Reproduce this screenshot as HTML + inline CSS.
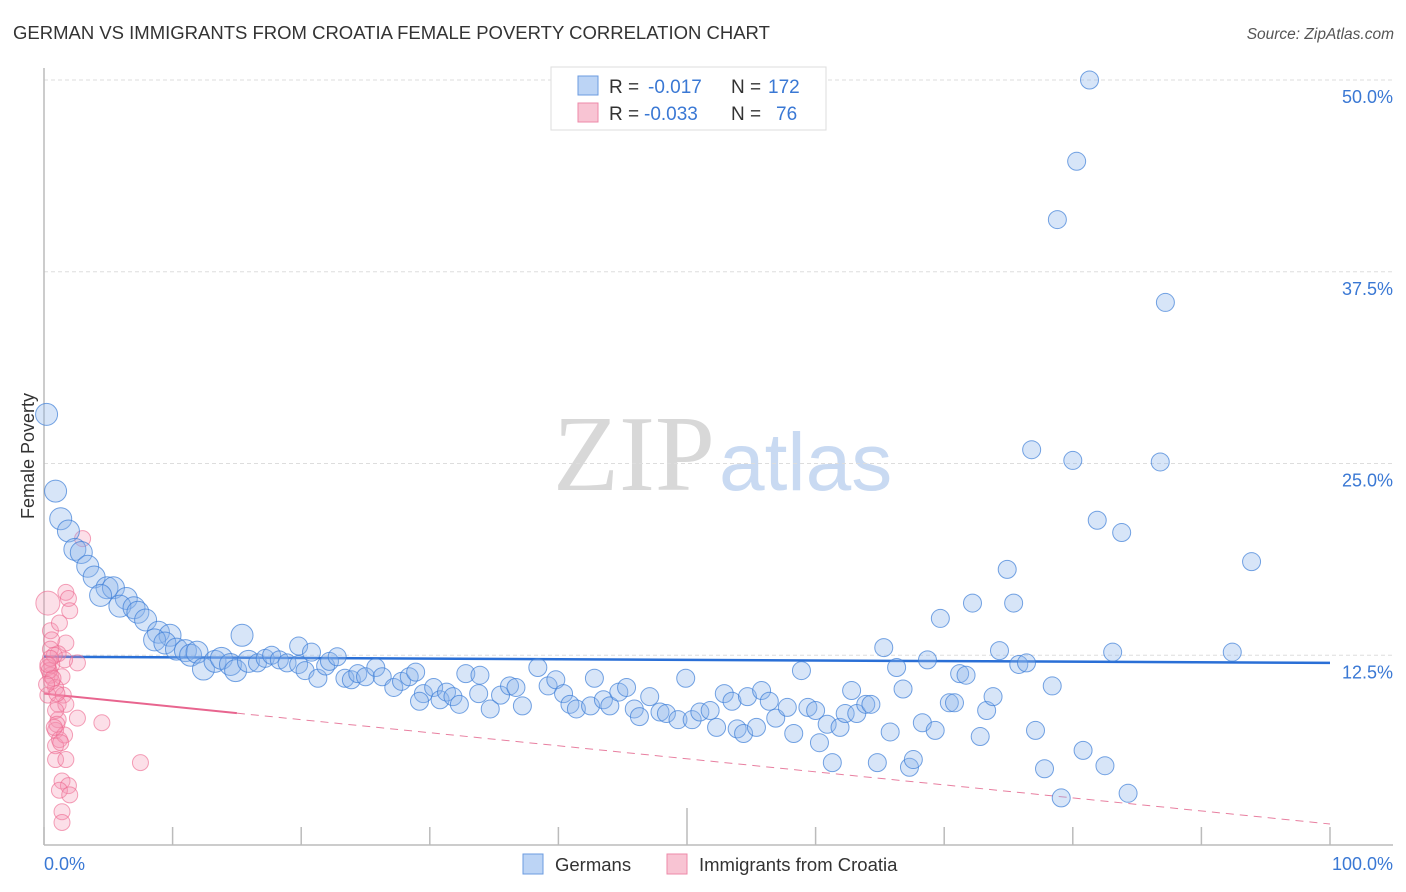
<!DOCTYPE html>
<html><head><meta charset="utf-8">
<style>
body{margin:0;background:#fff;font-family:"Liberation Sans",sans-serif;}
svg{display:block}
</style></head>
<body>
<svg id="chart" width="1406" height="892" xmlns="http://www.w3.org/2000/svg">
<text x="13" y="39" font-size="18.5" fill="#333">GERMAN VS IMMIGRANTS FROM CROATIA FEMALE POVERTY CORRELATION CHART</text>
<text x="1394" y="39" font-size="15.5" fill="#555" font-style="italic" text-anchor="end">Source: ZipAtlas.com</text>
<g>
<text x="553" y="490" font-family="Liberation Serif,serif" font-size="108" fill="#d8d8d8">ZIP</text>
<text x="719" y="490" font-size="82" fill="#c9daf2">atlas</text>
</g>
<g id="grid"></g>
<g id="axes"></g>
<g id="trend"></g>
<g id="pts"></g>
<text transform="translate(34,456) rotate(-90)" font-size="18" fill="#333" text-anchor="middle">Female Poverty</text>
<g>
<rect x="551" y="67" width="275" height="63" fill="#fff" stroke="#ddd"/>
<g>
<rect x="578" y="76" width="20" height="19" fill="#bcd4f5" stroke="#6b9be0"/>
<text x="609" y="93" font-size="19" fill="#333">R = </text><text x="648" y="93" font-size="19" fill="#3a78d4">-0.017</text>
<text x="731" y="93" font-size="19" fill="#333">N = </text><text x="768" y="93" font-size="19" fill="#3a78d4">172</text>
</g>
<g>
<rect x="578" y="103" width="20" height="19" fill="#f8c4d3" stroke="#ee8aa8"/>
<text x="609" y="120" font-size="19" fill="#333">R = </text><text x="644" y="120" font-size="19" fill="#3a78d4">-0.033</text>
<text x="731" y="120" font-size="19" fill="#333">N = </text><text x="776" y="120" font-size="19" fill="#3a78d4">76</text>
</g>
</g>
<g>
<rect x="523" y="854" width="20" height="20" fill="#bcd4f5" stroke="#6b9be0"/>
<text x="555" y="871" font-size="18.5" fill="#333">Germans</text>
<rect x="667" y="854" width="20" height="20" fill="#f8c4d3" stroke="#ee8aa8"/>
<text x="699" y="871" font-size="18.5" fill="#333">Immigrants from Croatia</text>
</g>
</svg>
<script>
const yTicks=[12.5,25,37.5,50];
const yTickLabels=["12.5%","25.0%","37.5%","50.0%"];
const xTicks=[0,10,20,30,40,50,60,70,80,90,100];
const germanX=[81.3,80.3,78.8,87.2,0.2,0.9,1.3,1.9,2.4,2.9,3.4,3.9,4.9,5.4,4.4,6.4,5.9,7.0,7.3,7.9,8.9,9.8,8.6,9.4,10.3,11.0,11.4,11.9,12.4,13.3,13.8,14.5,14.9,15.4,15.9,16.6,17.2,17.7,18.3,18.9,19.8,19.8,20.3,20.8,21.3,21.9,22.2,22.8,23.4,23.9,24.4,25.0,25.8,26.3,27.2,27.8,28.4,28.9,29.5,30.3,29.2,30.8,31.3,31.8,32.3,32.8,33.9,33.8,34.7,35.5,36.2,36.7,37.2,38.4,39.2,39.8,40.4,40.9,41.4,42.5,42.8,43.5,44.0,44.7,45.3,45.9,46.3,47.1,47.9,48.4,49.3,49.9,50.4,51.0,51.8,52.3,52.9,53.5,53.9,54.4,54.7,55.4,55.8,56.4,56.9,57.8,58.3,58.9,59.4,60.0,60.3,60.9,61.3,61.9,62.3,62.8,63.2,63.9,64.3,64.8,65.3,65.8,66.3,66.8,67.3,67.6,68.3,68.7,69.3,69.7,70.4,70.8,71.2,71.7,72.2,72.8,73.3,73.8,74.3,74.9,75.4,75.8,76.4,76.8,77.1,77.8,78.4,79.1,80.0,80.8,81.9,82.5,83.1,83.8,84.3,86.8,92.4,93.9];
const germanY=[50.0,44.7,40.9,35.5,28.2,23.2,21.4,20.6,19.4,19.2,18.3,17.6,16.9,16.9,16.4,16.2,15.7,15.6,15.3,14.8,14.0,13.8,13.5,13.3,12.9,12.8,12.5,12.7,11.6,12.1,12.3,11.9,11.5,13.8,12.1,12.0,12.3,12.5,12.2,12.0,11.9,13.1,11.5,12.7,11.0,11.8,12.1,12.4,11.0,10.9,11.3,11.1,11.7,11.1,10.4,10.8,11.1,11.4,10.0,10.4,9.5,9.6,10.1,9.8,9.3,11.3,11.2,10.0,9.0,9.9,10.5,10.4,9.2,11.7,10.5,10.9,10.0,9.3,9.0,9.2,11.0,9.6,9.2,10.1,10.4,9.0,8.5,9.8,8.8,8.7,8.3,11.0,8.3,8.8,8.9,7.8,10.0,9.5,7.7,7.4,9.8,7.8,10.2,9.5,8.4,9.1,7.4,11.5,9.1,8.9,6.8,8.0,5.5,7.8,8.7,10.2,8.7,9.3,9.3,5.5,13.0,7.5,11.7,10.3,5.2,5.7,8.1,12.2,7.6,14.9,9.4,9.4,11.3,11.2,15.9,7.2,8.9,9.8,12.8,18.1,15.9,11.9,12.0,25.9,7.6,5.1,10.5,3.2,25.2,6.3,21.3,5.3,12.7,20.5,3.5,25.1,12.7,18.6];
const croatiaX=[3.0,1.7,1.9,0.3,2.0,0.5,0.6,1.7,2.6,1.1,1.6,0.6,0.5,1.4,0.9,0.3,1.5,1.1,1.7,2.6,4.5,1.1,0.9,1.2,0.9,0.9,1.7,7.5,1.4,1.9,1.2,2.0,1.4,1.4,0.3,0.6,0.9,1.0,1.6,0.5,0.8,1.2,0.4,0.7,1.0,0.2,0.5,0.3,0.8,1.3];
const croatiaY=[20.1,16.6,16.2,15.9,15.4,14.1,13.5,13.3,12.0,12.6,12.2,11.9,11.2,11.1,10.4,9.9,9.9,9.3,9.3,8.4,8.1,8.3,7.6,7.0,6.6,5.7,5.7,5.5,4.3,4.0,3.7,3.4,2.3,1.6,11.7,10.8,8.9,8.0,7.3,12.9,12.5,14.6,11.5,11.0,10.0,10.6,12.3,11.9,7.8,6.8];
const germanTrend=[12.4,12.0];
const croatiaTrend=[10.0,1.5];
const ns="http://www.w3.org/2000/svg";
const X0=44,X1=1330,YB=847,PX=15.34;
function xs(v){return X0+(X1-X0)*v/100;}
function ys(v){return YB-v*PX;}
function mk(tag,attrs,parent){const e=document.createElementNS(ns,tag);for(const k in attrs)e.setAttribute(k,attrs[k]);document.getElementById(parent).appendChild(e);return e;}
yTicks.forEach((t,i)=>{
 const l=mk('line',{x1:X0,x2:1393,y1:ys(t),y2:ys(t),stroke:'#ddd','stroke-dasharray':'4,3'},'grid');
 
 
 const tx=mk('text',{x:1393,y:ys(t)+23,'font-size':18,fill:'#3a78d4','text-anchor':'end'},'grid');
 tx.textContent=yTickLabels[i];
 
 
});
mk('line',{x1:X0,x2:X0,y1:68,y2:845,stroke:'#bbb','stroke-width':1.5},'axes');
mk('line',{x1:X0,x2:1393,y1:845,y2:845,stroke:'#bbb','stroke-width':1.5},'axes');
xTicks.forEach(t=>{
 const tk=mk('line',{x1:xs(t),x2:xs(t),y1:(t==50?808:827),y2:845,stroke:'#bbb','stroke-width':1.5},'axes');
 
 
});
const xl0=mk('text',{x:44,y:870,'font-size':18,fill:'#3a78d4'},'axes');xl0.textContent='0.0%';


const xl1=mk('text',{x:1393,y:870,'font-size':18,fill:'#3a78d4','text-anchor':'end'},'axes');xl1.textContent='100.0%';


croatiaX.forEach((x,i)=>{
 const c=mk('circle',{cx:xs(x),cy:ys(croatiaY[i]),r:(i==3?12:8),fill:'rgba(244,150,180,0.3)',stroke:'rgba(236,100,140,0.6)','stroke-width':1},'pts');
 
 
});
germanX.forEach((x,i)=>{
 const c=mk('circle',{cx:xs(x),cy:ys(germanY[i]),r:(x<16?11:9),fill:'rgba(140,180,235,0.35)',stroke:'rgba(60,125,215,0.7)','stroke-width':1},'pts');
 
 
});
const gt=mk('line',{x1:xs(0),y1:ys(germanTrend[0]),x2:xs(100),y2:ys(germanTrend[1]),stroke:'#2a6fd6','stroke-width':2.5},'trend');


const cy=v=>croatiaTrend[0]+(croatiaTrend[1]-croatiaTrend[0])*v/100;
const cd=mk('line',{x1:xs(15),y1:ys(cy(15)),x2:xs(100),y2:ys(cy(100)),stroke:'#e87fa0','stroke-width':1,'stroke-dasharray':'8,6'},'trend');


const cs=mk('line',{x1:xs(0),y1:ys(cy(0)),x2:xs(15),y2:ys(cy(15)),stroke:'#e8658f','stroke-width':2},'trend');


</script>
</body></html>
